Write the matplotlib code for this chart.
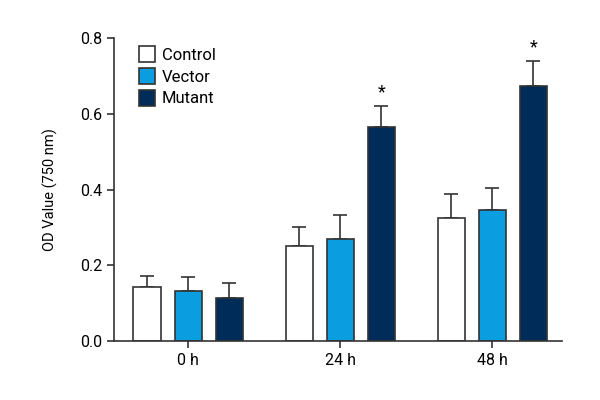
import matplotlib
matplotlib.use('Agg')
import matplotlib.pyplot as plt
from matplotlib.patches import Patch
import numpy as np

plt.rcParams['font.family'] = ['Roboto', 'DejaVu Sans']

# values
groups = ['0 h', '24 h', '48 h']
series = ['Control', 'Vector', 'Mutant']
control = [0.143, 0.250, 0.326]
control_err = [0.028, 0.052, 0.061]
vector = [0.133, 0.270, 0.345]
vector_err = [0.037, 0.062, 0.058]
mutant = [0.114, 0.566, 0.673]
mutant_err = [0.038, 0.054, 0.067]
star = [False, True, True]

colors = ['white', '#0a9ee0', '#002c5a']

fig = plt.figure(figsize=(6, 4), dpi=100)
ax = fig.add_axes([0.19, 0.1475, 0.747, 0.7575])

x = np.arange(len(groups))
width = 0.178
offset = 0.27
for i, (vals, errs) in enumerate([(control, control_err), (vector, vector_err), (mutant, mutant_err)]):
    pos = x + (i - 1) * offset
    ax.bar(pos, vals, width, color=colors[i], edgecolor='#333333', linewidth=1.2, zorder=2)
    ax.errorbar(pos, vals, yerr=[np.zeros(len(errs)), errs], fmt='none',
                ecolor='#333333', elinewidth=1.2, capsize=5, capthick=1.2, zorder=1)

for j, s in enumerate(star):
    if s:
        ax.text(x[j] + offset, mutant[j] + mutant_err[j] + 0.012, '*',
                ha='center', va='bottom', fontsize=13)

ax.set_xlim(-0.487, 2.46)
ax.set_ylim(0, 0.8)
ax.set_yticks([0.0, 0.2, 0.4, 0.6, 0.8])
ax.set_yticklabels(['0.0', '0.2', '0.4', '0.6', '0.8'])
ax.set_xticks(x)
ax.set_xticklabels(groups)
ax.tick_params(labelsize=11.5, length=5, width=1.2, color='#333333')
ax.set_ylabel('OD Value (750 nm)', fontsize=10.5, labelpad=16)

for sp in ['top', 'right']:
    ax.spines[sp].set_visible(False)
for sp in ['left', 'bottom']:
    ax.spines[sp].set_linewidth(1.2)
    ax.spines[sp].set_color('#333333')

handles = [Patch(facecolor=c, edgecolor='#333333', linewidth=1.2) for c in colors]
ax.legend(handles, series, loc='upper left', bbox_to_anchor=(0.04, 0.995),
          frameon=False, fontsize=12, handlelength=1.0, handleheight=1.1,
          handletextpad=0.4, labelspacing=0.3, borderaxespad=0.0)

fig.savefig('out.png', dpi=100)
